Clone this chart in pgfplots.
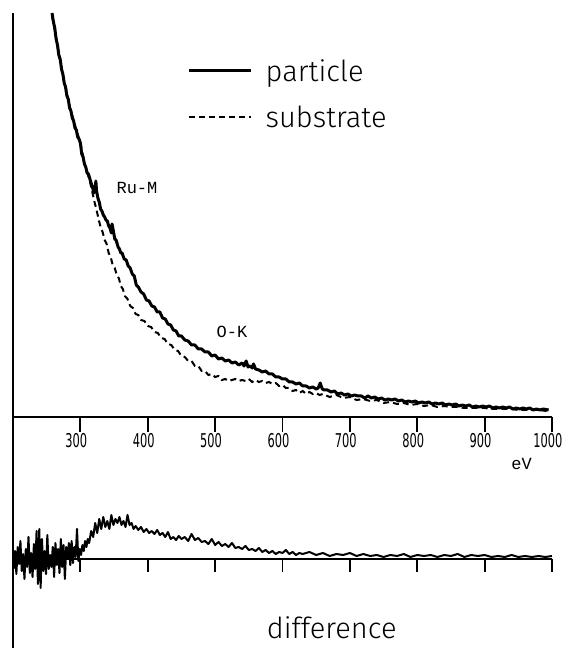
\documentclass[border=0pt]{standalone}
\usepackage{fontspec}
\usepackage{pgfplots}
\pgfplotsset{compat=1.18}
\newfontfamily\legfam{Fira Sans Light}
\newfontfamily\monofam{Liberation Mono}
\newfontfamily\tickfam{DejaVu Sans}[FakeStretch=0.6]
\newcommand\legf{\legfam\fontsize{29}{32}\selectfont}
\newcommand\monof{\monofam\fontsize{17}{19}\selectfont}
\newcommand\tickf{\tickfam\fontsize{19}{21}\selectfont}

\pgfplotstableread{
E h
258 404
260 395
262 389
264 378
266 372
268 362
270 358
272 348
274 343
276 334
278 330
280 321
282 318
284 309
286 306
288 299
290 296
292 289
294 287
296 280
298 278
300 274
302 263
304 260
306 253
308 250
310 244
312 243
315 236
318 230
320 224
322 229
323 236
324 226
326 219
328 215
330 208
332 206
334 202
336 200
338 197
340 196
342 191
344 189
346 184
347 193
349 186
351 178
353 177
356 170
358 168
360 164
362 164
365 158
368 157
371 151
374 149
377 143
380 141
383 132
386 130
390 125
394 123
398 117
402 116
406 111
410 110
414 105
418 105
422 99
426 98
430 93
434 92
438 87
442 86
446 81
450 81
455 77
460 76
465 72
470 72
475 68
480 68
485 65
490 65
495 61
500 62
505 58
510 59
515 56
520 57
525 54
530 55
535 52
540 54
543 51
546 56
549 50
552 51
555 49
557 53
560 48
565 47
570 45
575 46
580 43
585 43
590 40
595 40
600 38
605 38
610 35
615 35
620 33
625 34
630 31
635 31
640 29
645 30
650 28
653 29
656 34
659 28
662 27
667 27
672 25
677 26
682 23
687 24
692 22
697 23
702 21
707 22
712 21
717 21
722 19
727 21
732 19
737 20
742 18
747 19
752 17
757 18
762 17
767 18
772 16
777 17
782 15
787 16
792 15
797 16
802 14
807 15
812 14
817 15
822 13
827 14
832 13
837 14
842 12
847 13
852 12
857 13
862 11
867 12
872 11
877 12
882 10
887 11
892 10
897 11
902 10
907 11
912 9
917 10
922 9
927 10
932 9
937 10
942 8
947 9
952 8
957 9
962 8
967 9
972 7
977 8
982 7
987 8
995 7
}\particle

\pgfplotstableread{
E h
258 401
262 387
266 372
270 356
274 342
278 330
282 317
286 306
290 297
294 287
298 279
302 268
306 254
310 245
314 236
318 224
321 215
324 207
327 198
330 190
333 185
336 177
339 173
342 164
345 160
348 152
351 149
354 142
357 139
360 131
363 128
366 121
370 118
374 111
378 109
382 103
386 102
390 97
395 96
400 91
405 90
410 85
415 84
420 79
425 78
430 73
435 72
440 67
445 66
450 61
455 60
460 56
465 56
470 51
475 51
480 46
485 46
490 42
495 43
500 40
505 41
510 37
515 38
520 36
525 37
530 38
535 36
540 37
545 36
550 38
555 35
560 37
565 35
570 36
575 34
580 35
585 33
590 34
595 31
600 32
605 29
610 29
615 26
620 27
625 24
630 26
635 23
640 25
645 23
650 24
655 22
660 23
670 20
680 22
690 19
700 20
710 17
720 18
730 16
740 17
750 14
760 15
770 13
780 14
790 12
800 13
810 11
820 12
830 10
840 11
850 10
860 10
870 9
880 9
890 9
900 9
910 8
920 8
930 8
940 8
950 7
960 7
970 7
980 7
992 6
}\substrate

\pgfplotstableread{
E h
201 -10
203 8
205 -15
207 12
209 -5
211 18
213 -12
215 5
217 -20
219 10
221 -8
223 22
225 -14
227 6
229 -18
231 15
233 -10
235 28
237 -25
239 30
241 -29
243 20
245 -12
247 8
249 -15
251 24
253 -10
255 4
257 -8
259 12
261 -18
263 16
265 -6
267 10
269 -14
271 20
273 -8
275 14
277 -20
279 12
281 0
283 16
285 -6
287 18
289 -4
291 12
293 2
295 30
297 -2
299 10
301 4
303 14
305 8
307 18
309 12
311 20
313 16
316 28
319 22
322 36
325 26
328 40
331 30
334 42
337 32
340 38
343 30
346 44
349 34
352 40
355 36
358 42
361 34
364 38
367 32
370 44
373 34
376 36
379 30
382 33
386 29
390 32
394 27
398 30
402 26
406 28
410 25
414 29
418 24
422 26
426 22
430 27
434 20
438 22
442 19
446 23
450 20
455 22
460 18
465 25
470 19
475 21
480 17
485 18
490 15
495 20
500 14
505 17
510 13
515 15
520 12
525 16
530 11
535 12
540 10
545 13
550 9
555 10
560 8
565 11
570 7
575 9
580 6
585 8
590 5
595 7
600 6
605 9
610 5
615 7
620 4
625 6
630 5
640 7
650 4
660 6
670 3
680 5
690 4
700 6
710 3
720 5
730 3
740 4
750 2
760 4
770 3
780 5
790 2
800 4
810 3
820 4
830 2
840 4
850 3
860 5
870 2
880 4
890 3
900 4
910 2
920 3
930 2
940 4
950 2
960 3
970 2
980 3
990 2
1000 3
}\difference

\begin{document}
\begin{tikzpicture}
\useasboundingbox (0,0) rectangle (564pt,650pt);
\begin{axis}[
  at={(13pt,233pt)}, anchor=south west,
  scale only axis, width=539pt, height=404pt,
  xmin=200, xmax=1000, ymin=0, ymax=404,
  axis x line=bottom, axis y line=left,
  axis line style={-, line width=1.8pt},
  xtick={300,400,...,1000}, ytick=\empty,
  tick align=outside, major tick length=15pt,
  tick style={line width=1.8pt, black},
  /pgf/number format/assume math mode=true,
  /pgf/number format/1000 sep={},
  xticklabel style={font=\tickf, yshift=2pt, xshift=-4pt},
  clip=false,
  legend style={at={(axis cs:459,359)}, anchor=north west, draw=none, fill=none,
    font=\legf, row sep=21pt, inner sep=0pt,
    nodes={inner sep=1pt}},
  legend cell align=left,
  legend image code/.code={\draw[#1] (0pt,0pt) -- (62pt,0pt);},
]
\addplot[black, line width=3pt, line join=round] table[x=E, y=h] {\particle};
\addlegendentry{\hspace{12pt}particle}
\addplot[black, line width=2pt, dash pattern=on 6pt off 4pt] table[x=E, y=h] {\substrate};
\addlegendentry{\hspace{12pt}substrate}
\node[font=\monof] at (axis cs:384,229) {Ru-M};
\node[font=\monof] at (axis cs:525,85) {O-K};
\node[font=\monof] at (axis cs:955,-47) {eV};
\end{axis}
\begin{axis}[
  at={(13pt,2pt)}, anchor=south west,
  scale only axis, width=539pt, height=231pt,
  xmin=200, xmax=1000, ymin=-89, ymax=142,
  axis x line=middle, axis y line=left,
  axis line style={-, line width=1.8pt},
  xtick={300,400,...,1000}, ytick=\empty, xticklabels={},
  tick align=outside, major tick length=13pt,
  tick style={line width=1.8pt, black},
  clip=false,
]
\addplot[black, line width=2pt, line join=round] table[x=E, y=h] {\difference};
\node[font=\legf] at (axis cs:673,-69) {difference};
\end{axis}
\end{tikzpicture}
\end{document}
